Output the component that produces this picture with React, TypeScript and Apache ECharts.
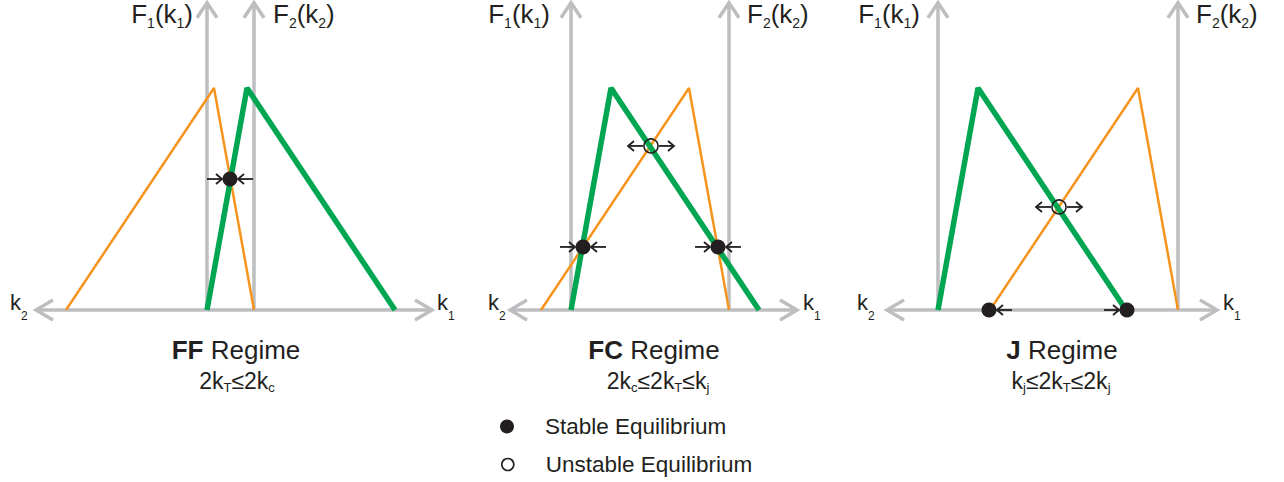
import React, { useEffect, useRef } from 'react';
import * as echarts from 'echarts';

// ---------------- data ----------------
const regimeNames = ['FF', 'FC', 'J'];
const regimeConditions = ['2k_T≤2k_c', '2k_c≤2k_T≤k_j', 'k_j≤2k_T≤2k_j'];
// production function profile F(k) (same shape for both firms)
const profileK = [0, 4.0, 18.8];
const profileF = [0, 1, 0];
// position of the F2 axis (distance 2kT from the F1 axis) per regime
const axisGap = [4.7, 15.8, 24.0];
// extents of the drawn k axis (k2 arrow tip, k1 arrow tip) and of the F axes
const axisLeftEnd = [-17.1, -6.1, -5.1];
const axisRightEnd = [22.5, 22.6, 27.9];
const axisTopEnd = 1.384;
// equilibria [k1, F]
const stablePoints = [
  [[2.3, 0.59]],
  [[1.2, 0.284], [14.7, 0.284]],
  [[5.1, 0], [18.9, 0]],
];
const unstablePoints = [[], [[8.0, 0.739]], [[12.1, 0.464]]];
// dynamics arrows: [k1, F, side (-1 left / +1 right), inward (1) / outward (0)]
const eqArrows = [
  [[2.3, 0.59, -1, 1], [2.3, 0.59, 1, 1]],
  [
    [1.2, 0.284, -1, 1], [1.2, 0.284, 1, 1],
    [14.7, 0.284, -1, 1], [14.7, 0.284, 1, 1],
    [8.0, 0.739, -1, 0], [8.0, 0.739, 1, 0],
  ],
  [[12.1, 0.464, -1, 0], [12.1, 0.464, 1, 0], [5.1, 0, 1, 1], [18.9, 0, -1, 1]],
];
const legendNames = ['Stable Equilibrium', 'Unstable Equilibrium'];
const labelK1 = 'k_1';
const labelK2 = 'k_2';
const labelF1 = 'F_1(k_1)';
const labelF2 = 'F_2(k_2)';

// ---------------- layout / style ----------------
const F1_AXIS_PX = [207, 571, 938];
const BASE_Y = 310;
const PX_PER_K = 10;
const PX_PER_F = 222;
const K2_LABEL_X = [10, 488, 857];
const K1_LABEL_X = [437, 803, 1223];
const F1_LABEL_RIGHT = [193, 550, 920];
const F2_LABEL_LEFT = [273, 747, 1196];
const TITLE_X = [236, 654, 1062];
const COND_X = [237, 658, 1061];

const FONT = '"Liberation Sans", Arial, Helvetica, sans-serif';
const TEXT = '#231f20';
const GRAY = '#bcbec0';
const GREEN = '#00a651';
const ORANGE = '#f7941d';

const toRich = (s: string) =>
  s
    .split(/(_.)/)
    .filter(Boolean)
    .map((t) => (t[0] === '_' ? `{s|${t.slice(1)}}` : `{m|${t}}`))
    .join('');

const richSub = (main: number, sub: number, pad: number) => ({
  m: { fontSize: main, fontFamily: FONT, fill: TEXT, verticalAlign: 'top' },
  s: { fontSize: sub, fontFamily: FONT, fill: TEXT, verticalAlign: 'top', padding: [pad, 0, 0, 0] },
});

const chevron = (tip: number[], dx: number, dy: number, back: number, half: number, stroke: string, width: number) => {
  const px = -dy;
  const py = dx;
  return {
    type: 'polyline',
    shape: {
      points: [
        [tip[0] - dx * back + px * half, tip[1] - dy * back + py * half],
        [tip[0], tip[1]],
        [tip[0] - dx * back - px * half, tip[1] - dy * back - py * half],
      ],
    },
    style: { stroke, lineWidth: width, fill: 'none', lineJoin: 'miter' },
  };
};

const seg = (a: number[], b: number[], stroke: string, width: number) => ({
  type: 'line',
  shape: { x1: a[0], y1: a[1], x2: b[0], y2: b[1] },
  style: { stroke, lineWidth: width },
});

function buildOption() {
  const grids = regimeNames.map((_, i) => ({
    left: F1_AXIS_PX[i] + axisLeftEnd[i] * PX_PER_K,
    width: (axisRightEnd[i] - axisLeftEnd[i]) * PX_PER_K,
    top: BASE_Y - axisTopEnd * PX_PER_F,
    height: axisTopEnd * PX_PER_F,
  }));
  const xAxes = regimeNames.map((_, i) => ({
    type: 'value', gridIndex: i, min: axisLeftEnd[i], max: axisRightEnd[i], show: false,
  }));
  const yAxes = regimeNames.map((_, i) => ({
    type: 'value', gridIndex: i, min: 0, max: axisTopEnd, show: false,
  }));

  const series: any[] = [];
  regimeNames.forEach((_, i) => {
    series.push({
      type: 'custom', xAxisIndex: i, yAxisIndex: i, z: 1, silent: true, clip: false,
      data: [[0, 0]],
      renderItem: (_p: any, api: any) => {
        const L = api.coord([axisLeftEnd[i], 0]);
        const R = api.coord([axisRightEnd[i], 0]);
        const children: any[] = [
          seg(L, R, GRAY, 3.5),
          chevron(L, -1, 0, 17, 10, GRAY, 3.5),
          chevron(R, 1, 0, 17, 10, GRAY, 3.5),
        ];
        [0, axisGap[i]].forEach((x) => {
          const b = api.coord([x, 0]);
          const t = api.coord([x, axisTopEnd]);
          children.push(seg(b, t, GRAY, 3.5));
          children.push(chevron(t, 0, -1, 15, 10, GRAY, 3.5));
        });
        return { type: 'group', children };
      },
    });
    series.push({
      type: 'line', xAxisIndex: i, yAxisIndex: i, z: 2, silent: true, symbol: 'none',
      data: profileK.map((k, j) => [axisGap[i] - k, profileF[j]]),
      lineStyle: { color: ORANGE, width: 2.5 },
    });
    series.push({
      type: 'line', xAxisIndex: i, yAxisIndex: i, z: 3, silent: true, symbol: 'none',
      data: profileK.map((k, j) => [k, profileF[j]]),
      lineStyle: { color: GREEN, width: 5.5 },
    });
    series.push({
      type: 'custom', xAxisIndex: i, yAxisIndex: i, z: 4, silent: true, clip: false,
      encode: { x: 0, y: 1 },
      data: eqArrows[i],
      renderItem: (_p: any, api: any) => {
        const c = api.coord([api.value(0), api.value(1)]);
        const side = api.value(2);
        const inward = api.value(3) === 1;
        const tailOff = inward ? 23 : 8;
        const tipOff = inward ? 8 : 23;
        const tail = [c[0] + side * tailOff, c[1]];
        const tip = [c[0] + side * tipOff, c[1]];
        const dir = tip[0] > tail[0] ? 1 : -1;
        return {
          type: 'group',
          children: [seg(tail, tip, TEXT, 1.8), chevron(tip, dir, 0, 6, 5, TEXT, 1.8)],
        };
      },
    });
    series.push({
      type: 'scatter', name: legendNames[0], xAxisIndex: i, yAxisIndex: i, z: 5, silent: true, clip: false,
      symbol: 'circle', symbolSize: 15, data: stablePoints[i],
      itemStyle: { color: TEXT, opacity: 1 },
    });
    series.push({
      type: 'scatter', name: legendNames[1], xAxisIndex: i, yAxisIndex: i, z: 5, silent: true, clip: false,
      symbol: 'circle', symbolSize: 14, data: unstablePoints[i],
      itemStyle: { color: 'rgba(255,255,255,0)', borderColor: TEXT, borderWidth: 1.6, opacity: 1 },
    });
  });

  const graphics: any[] = [];
  regimeNames.forEach((name, i) => {
    graphics.push({
      type: 'text', x: K2_LABEL_X[i], y: 291.5, silent: true,
      style: { text: toRich(labelK2), rich: richSub(22, 12, 18.5), align: 'left', verticalAlign: 'top' },
    });
    graphics.push({
      type: 'text', x: K1_LABEL_X[i], y: 291.5, silent: true,
      style: { text: toRich(labelK1), rich: richSub(22, 12, 18.5), align: 'left', verticalAlign: 'top' },
    });
    graphics.push({
      type: 'text', x: F1_LABEL_RIGHT[i], y: 1, silent: true,
      style: { text: toRich(labelF1), rich: richSub(26, 14, 14.5), align: 'right', verticalAlign: 'top' },
    });
    graphics.push({
      type: 'text', x: F2_LABEL_LEFT[i], y: 1, silent: true,
      style: { text: toRich(labelF2), rich: richSub(26, 14, 14.5), align: 'left', verticalAlign: 'top' },
    });
    graphics.push({
      type: 'text', x: TITLE_X[i], y: 350, silent: true,
      style: {
        text: `{b|${name}}{n| Regime}`,
        rich: {
          b: { fontSize: 26, fontWeight: 'bold', fontFamily: FONT, fill: TEXT },
          n: { fontSize: 26, fontFamily: FONT, fill: TEXT },
        },
        align: 'center', verticalAlign: 'middle',
      },
    });
    graphics.push({
      type: 'text', x: COND_X[i], y: 369, silent: true,
      style: { text: toRich(regimeConditions[i]), rich: richSub(23, 13, 12), align: 'center', verticalAlign: 'top' },
    });
  });

  const legendText = { fontSize: 22.5, fontFamily: FONT, color: TEXT, lineHeight: 22, padding: [0, 0, 0, 26] };
  return {
    animation: false,
    backgroundColor: '#ffffff',
    grid: grids,
    xAxis: xAxes,
    yAxis: yAxes,
    legend: [
      {
        orient: 'vertical', left: 500, top: 415, padding: 0, itemWidth: 14, itemHeight: 14, selectedMode: false,
        data: [{ name: legendNames[0], icon: 'circle', itemStyle: { color: TEXT, borderWidth: 0, opacity: 1 } }],
        textStyle: legendText,
      },
      {
        orient: 'vertical', left: 501, top: 453, padding: 0, itemWidth: 12, itemHeight: 12, selectedMode: false,
        data: [{
          name: legendNames[1], icon: 'circle',
          itemStyle: { color: 'rgba(255,255,255,0)', borderColor: TEXT, borderWidth: 1.6, opacity: 1 },
        }],
        textStyle: { ...legendText, padding: [0, 0, 0, 27] },
      },
    ],
    graphic: graphics,
    series,
  };
}

export default function App() {
  const ref = useRef<HTMLDivElement>(null);
  useEffect(() => {
    const chart = echarts.init(ref.current!, null, { renderer: 'svg' });
    chart.setOption(buildOption() as any);
    return () => chart.dispose();
  }, []);
  return (
    <div
      ref={ref}
      style={{ position: 'absolute', left: 0, top: 0, width: 1284, height: 482, background: '#fff' }}
    />
  );
}
